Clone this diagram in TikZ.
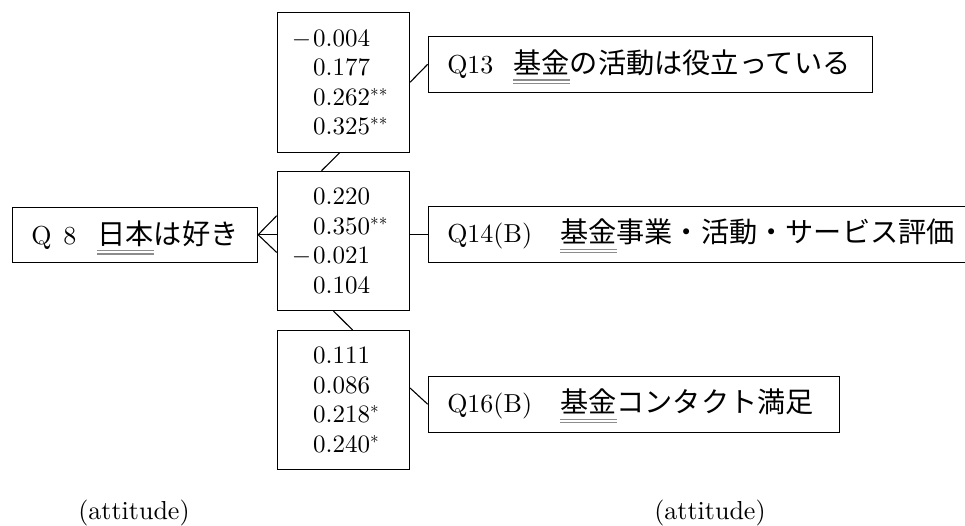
\documentclass[tikz,border=0pt]{standalone}
\usepackage{fontspec}
\setmainfont{lmroman10-regular.otf}
\newfontfamily\jp{Noto Sans CJK JP}
\usetikzlibrary{calc}

\newlength{\du}
\setlength{\du}{1pt}

\definecolor{ulgray}{rgb}{0.550000, 0.550000, 0.550000}
\newcommand{\latf}{\fontsize{26}{30}\selectfont}
\newcommand{\jpf}{\jp\fontsize{28.2}{30}\selectfont}
\newcommand{\dblul}[1]{\setbox0=\hbox{#1}%
  \rlap{\color{ulgray}\raisebox{-7pt}[0pt][0pt]{\rule{\wd0}{1.1pt}}}%
  \rlap{\color{ulgray}\raisebox{-10.5pt}[0pt][0pt]{\rule{\wd0}{1.1pt}}}\box0}

\tikzset{
  qbox/.style={draw, line width=1.1pt, anchor=north west, inner xsep=19pt, inner ysep=0pt, align=left, minimum height=56pt},
  valbox/.style={draw, line width=1.1pt, anchor=north west, minimum width=132.3pt},
  vals/.style={anchor=west, align=left, inner sep=0pt, font=\fontsize{25}{29.5}\selectfont},
  link/.style={line width=1.1pt},
  att/.style={anchor=base, inner sep=0pt, font=\fontsize{26}{30}\selectfont}
}

\begin{document}
\begin{tikzpicture}
\pgftransformxscale{1.000000}
\pgftransformyscale{-1.000000}
\useasboundingbox (0\du,0\du) rectangle (965\du,526\du);
% question boxes
\node[qbox, text width=207.3pt, minimum height=55pt] (q8) at (11.7\du,206.7\du) {{\latf Q\hspace{12pt}8}\hspace{21pt}{\jpf\dblul{日本}は好き}};
\node[qbox, text width=406pt] (q13) at (427.7\du,35.7\du) {{\latf Q13}\hspace{20pt}{\jpf\dblul{基金}の活動は役立っている}};
\node[qbox, text width=519.3pt] (q14) at (427.7\du,205.7\du) {{\latf Q14(B)}\hspace{28pt}{\jpf\dblul{基金}事業・活動・サービス評価}};
\node[qbox, text width=373.6pt] (q16) at (427.7\du,375.7\du) {{\latf Q16(B)}\hspace{28pt}{\jpf\dblul{基金}コンタクト満足}};
% coefficient boxes
\node[valbox, minimum height=140pt] (vtop) at (276.7\du,11.7\du) {};
\node[valbox, minimum height=139.3pt] (vmid) at (276.7\du,170.7\du) {};
\node[valbox, minimum height=139pt] (vbot) at (276.7\du,330\du) {};
\node[vals] (ntop) at ($(vtop.west)+(36.3\du,0)$) {\llap{$-$\kern2pt}0.004\\0.177\\0.262$^{**}$\\0.325$^{**}$};
\node[vals] (nmid) at ($(vmid.west)+(36.3\du,0)$) {0.220\\0.350$^{**}$\\\llap{$-$\kern2pt}0.021\\0.104};
\node[vals] (nbot) at ($(vbot.west)+(36.3\du,0)$) {0.111\\0.086\\0.218$^{*}$\\0.240$^{*}$};
% connectors
\draw[link] ($(vtop.south)+(-3.85\du,0)$) -- ($(vmid.north)+(-21.85\du,0)$);
\draw[link] ($(vmid.south)+(-9.85\du,0)$) -- ($(vbot.north)+(9.15\du,0)$);
\draw[link] (vtop.east) -- (q13.west);
\draw[link] (vmid.east |- q14.west) -- (q14.west);
\draw[link] ($(vbot.east)+(0,-12\du)$) -- (q16.west);
\coordinate (foot) at (vmid.west |- q8.east);
\draw[link] ($(foot)+(0,-19\du)$) -- (q8.east) -- ($(foot)+(0,17.7\du)$);
\draw[link] (q8.east) -- (foot);
% captions
\node[att] (att1) at (134\du,519\du) {(attitude)};
\node[att] (att2) at (710\du,519\du) {(attitude)};
\end{tikzpicture}
\end{document}
